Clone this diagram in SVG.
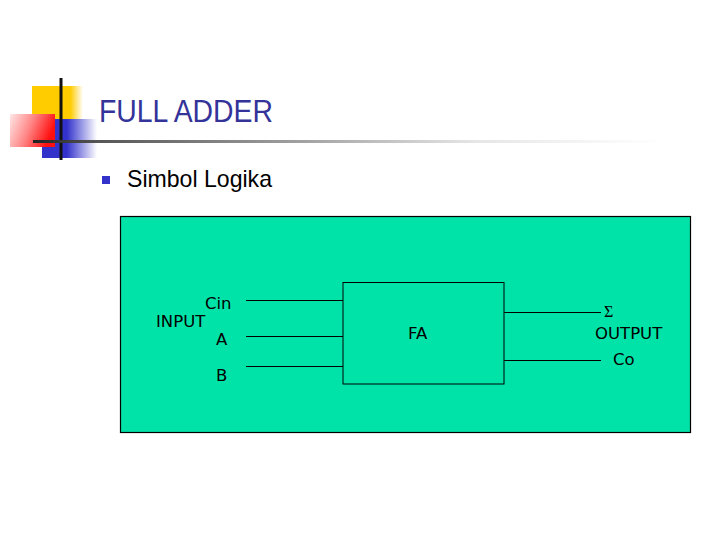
<svg xmlns="http://www.w3.org/2000/svg" width="720" height="540" viewBox="0 0 720 540">
<defs>
<linearGradient id="gy" x1="0" y1="0" x2="1" y2="0"><stop offset="0" stop-color="#FFCC00"/><stop offset="0.75" stop-color="#FFCC00"/><stop offset="1" stop-color="#FFCC00" stop-opacity="0"/></linearGradient>
<linearGradient id="gb" x1="0" y1="0" x2="1" y2="0"><stop offset="0" stop-color="#3333CC"/><stop offset="0.45" stop-color="#3333CC"/><stop offset="1" stop-color="#3333CC" stop-opacity="0"/></linearGradient>
<linearGradient id="gr" x1="0" y1="0" x2="1" y2="0.3"><stop offset="0" stop-color="#FFE6E6"/><stop offset="0.5" stop-color="#FF8888"/><stop offset="1" stop-color="#FF1010"/></linearGradient>
<linearGradient id="gl" x1="0" y1="0" x2="1" y2="0"><stop offset="0" stop-color="#222"/><stop offset="0.1" stop-color="#555"/><stop offset="0.42" stop-color="#a0a0a0"/><stop offset="0.7" stop-color="#e6e6e6"/><stop offset="1" stop-color="#fff"/></linearGradient>
<style>
.t{font-family:"DejaVu Sans",Verdana,sans-serif;font-size:16.5px;fill:#000}
.w{stroke:#000;stroke-width:1;fill:none}
</style>
</defs>
<g id="logo">
<rect x="32" y="86" width="51" height="33" fill="url(#gy)"/>
<rect x="42" y="119" width="55" height="39" fill="url(#gb)"/>
<rect x="10" y="114" width="45" height="33" fill="url(#gr)"/>
<rect x="59.5" y="78" width="3" height="82" fill="#111"/>
<rect x="33" y="140" width="632" height="3" fill="url(#gl)"/>
</g>
<g id="title">
<text x="99" y="122" font-family="Liberation Sans,Arial,sans-serif" font-size="31" fill="#333399" textLength="174" lengthAdjust="spacingAndGlyphs">FULL ADDER</text>
</g>
<g id="bullet">
<rect x="102" y="176" width="8" height="8" fill="#3333CC"/>
<text x="127" y="187" font-family="Liberation Sans,Arial,sans-serif" font-size="24" fill="#000" textLength="145" lengthAdjust="spacingAndGlyphs">Simbol Logika</text>
</g>
<g id="panel">
<rect x="120.5" y="216.5" width="570" height="216" fill="#00E3A8" stroke="#000" stroke-width="1.2"/>
</g>
<g id="fa">
<rect x="343" y="282.5" width="161" height="101.5" fill="#00E3A8" stroke="#000" stroke-width="1"/>
<text class="t" x="408" y="339">FA</text>
</g>
<g id="connectors">
<line class="w" x1="246" y1="300.5" x2="343" y2="300.5"/>
<line class="w" x1="246" y1="336.5" x2="343" y2="336.5"/>
<line class="w" x1="246" y1="366.5" x2="343" y2="366.5"/>
<line class="w" x1="504" y1="312.5" x2="601" y2="312.5"/>
<line class="w" x1="504" y1="360.5" x2="601" y2="360.5"/>
</g>
<g id="labels">
<text class="t" x="205" y="309">Cin</text>
<text class="t" x="156" y="327">INPUT</text>
<text class="t" x="216" y="345">A</text>
<text class="t" x="216" y="381">B</text>
<text x="604" y="317" font-family="Liberation Serif,Times New Roman,serif" font-size="16" fill="#000">Σ</text>
<text class="t" x="595" y="339">OUTPUT</text>
<text class="t" x="613" y="365">Co</text>
</g>
</svg>
